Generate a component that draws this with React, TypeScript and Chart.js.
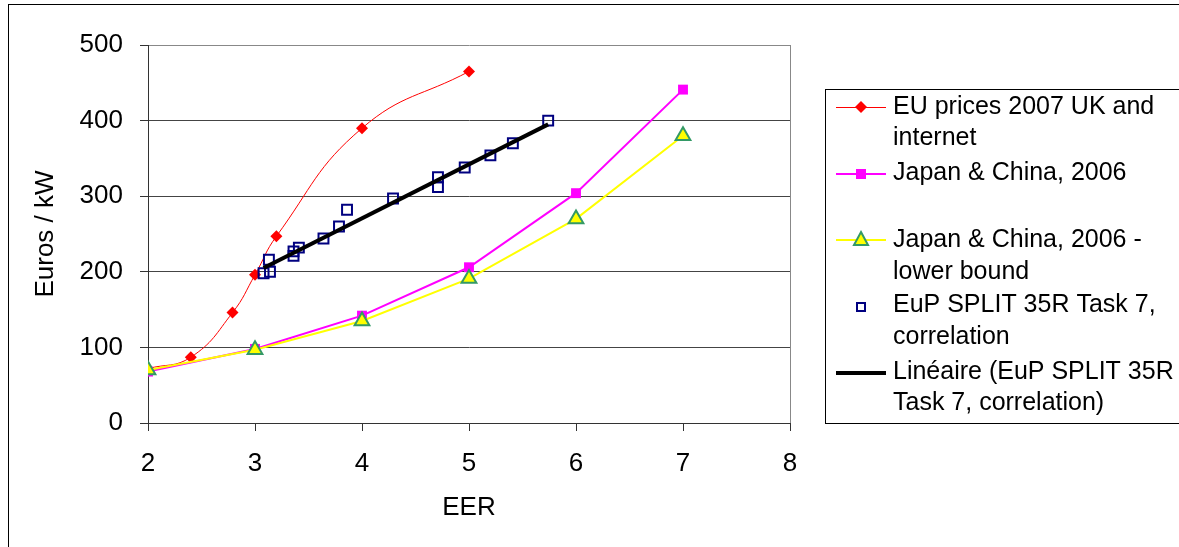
import React, { useEffect, useRef } from "react";
import { Chart, registerables } from "chart.js";

Chart.register(...registerables);

// ---------- data ----------
const euX = [2, 2.4, 2.79, 3.0, 3.2, 4, 5];
const euY = [72, 87, 146, 196, 247, 390, 465];

const jcX = [2, 3, 4, 5, 6, 7];
const jcY = [68, 98, 142, 206, 304, 441];

const jcLowX = [2, 3, 4, 5, 6, 7];
const jcLowY = [70, 97, 135, 191, 270, 380];

const eupX = [5.74, 5.41, 5.2, 4.96, 4.71, 4.71, 4.29, 3.86, 3.785, 3.64, 3.41, 3.36, 3.36, 3.13, 3.14, 3.08];
const eupY = [400, 370, 354, 338, 325, 312, 297, 282, 260, 244, 232, 227, 221, 216, 200, 198];

const trendX = [3.08, 5.74];
const trendY = [205, 395];

const xTicks = [2, 3, 4, 5, 6, 7, 8];
const yTicks = [0, 100, 200, 300, 400, 500];

const legendLines: string[][] = [
  ["EU prices 2007 UK and", "internet"],
  ["Japan & China, 2006"],
  ["Japan & China, 2006 -", "lower bound"],
  ["EuP SPLIT 35R Task 7,", "correlation"],
  ["Linéaire (EuP SPLIT 35R", "Task 7, correlation)"],
];

const FONT = "'Liberation Sans', Arial, Helvetica, sans-serif";

const pts = (xs: number[], ys: number[]) => xs.map((x, i) => ({ x, y: ys[i] }));

const legendPlugin = {
  id: "customLegend",
  afterDraw(chart: any) {
    const ctx = chart.ctx as CanvasRenderingContext2D;
    const area = chart.chartArea;
    ctx.save();
    // plot-area right border
    ctx.strokeStyle = "#888";
    ctx.lineWidth = 1;
    ctx.beginPath();
    ctx.moveTo(Math.round(area.right) + 0.5, area.top);
    ctx.lineTo(Math.round(area.right) + 0.5, area.bottom);
    ctx.stroke();

    // legend box
    ctx.strokeStyle = "#000";
    ctx.lineWidth = 1;
    ctx.strokeRect(825.5, 89.5, 420, 334);

    ctx.font = `25px ${FONT}`;
    ctx.fillStyle = "#000";
    ctx.textBaseline = "middle";
    ctx.textAlign = "left";
    const lineYs = [[107, 138], [173], [240, 272], [305, 337], [372, 403]];
    const symY = [107, 174, 240, 307, 373];
    legendLines.forEach((lines, i) => {
      lines.forEach((t, j) => ctx.fillText(t, 893, lineYs[i][j]));
    });
    const x0 = 836, x1 = 886, cx = 861;
    // red
    ctx.strokeStyle = "#FF0000"; ctx.lineWidth = 1;
    ctx.beginPath(); ctx.moveTo(x0, symY[0] + 0.5); ctx.lineTo(x1, symY[0] + 0.5); ctx.stroke();
    ctx.fillStyle = "#FF0000";
    ctx.beginPath(); ctx.moveTo(cx, symY[0] - 6); ctx.lineTo(cx + 6, symY[0]); ctx.lineTo(cx, symY[0] + 6); ctx.lineTo(cx - 6, symY[0]); ctx.closePath(); ctx.fill();
    // magenta
    ctx.strokeStyle = "#FF00FF"; ctx.lineWidth = 2;
    ctx.beginPath(); ctx.moveTo(x0, symY[1]); ctx.lineTo(x1, symY[1]); ctx.stroke();
    ctx.fillStyle = "#FF00FF"; ctx.fillRect(cx - 5, symY[1] - 5, 10, 10);
    // yellow
    ctx.strokeStyle = "#FFFF00"; ctx.lineWidth = 2;
    ctx.beginPath(); ctx.moveTo(x0, symY[2]); ctx.lineTo(x1, symY[2]); ctx.stroke();
    ctx.fillStyle = "#FFFF00"; ctx.strokeStyle = "#339966"; ctx.lineWidth = 2;
    ctx.beginPath(); ctx.moveTo(cx, symY[2] - 8); ctx.lineTo(cx + 7, symY[2] + 5); ctx.lineTo(cx - 7, symY[2] + 5); ctx.closePath(); ctx.fill(); ctx.stroke();
    // navy square
    ctx.strokeStyle = "#000080"; ctx.lineWidth = 2;
    ctx.strokeRect(cx - 4, symY[3] - 4, 8, 8);
    // trend line
    ctx.strokeStyle = "#000"; ctx.lineWidth = 4;
    ctx.beginPath(); ctx.moveTo(x0, symY[4]); ctx.lineTo(x1, symY[4]); ctx.stroke();
    ctx.restore();
  },
};

export default function App() {
  const canvasRef = useRef<HTMLCanvasElement | null>(null);

  useEffect(() => {
    document.body.style.overflow = "hidden";
    const canvas = canvasRef.current;
    if (!canvas) return;
    const chart = new Chart(canvas, {
      type: "scatter",
      data: {
        datasets: [
          {
            label: "EU prices 2007 UK and internet",
            data: pts(euX, euY),
            showLine: true,
            borderColor: "#FF0000",
            borderWidth: 1,
            tension: 0.45,
            backgroundColor: "#FF0000",
            pointStyle: "rectRot",
            pointRadius: 6,
            pointBorderWidth: 0,
            order: 4,
          },
          {
            label: "Japan & China, 2006",
            data: pts(jcX, jcY),
            showLine: true,
            borderColor: "#FF00FF",
            borderWidth: 2,
            backgroundColor: "#FF00FF",
            pointStyle: "rect",
            pointRadius: 7,
            pointBorderWidth: 0,
            order: 3,
          },
          {
            label: "Japan & China, 2006 - lower bound",
            data: pts(jcLowX, jcLowY),
            showLine: true,
            borderColor: "#FFFF00",
            borderWidth: 2,
            backgroundColor: "#FFFF00",
            pointStyle: "triangle",
            pointRadius: 8.5,
            pointBorderColor: "#339966",
            pointBorderWidth: 2,
            order: 2,
          },
          {
            label: "EuP SPLIT 35R Task 7, correlation",
            data: pts(eupX, eupY),
            showLine: false,
            borderColor: "#000080",
            backgroundColor: "rgba(0,0,0,0)",
            pointStyle: "rect",
            pointRadius: 7,
            pointBorderWidth: 2,
            order: 1,
          },
          {
            label: "Linéaire (EuP SPLIT 35R Task 7, correlation)",
            data: pts(trendX, trendY),
            showLine: true,
            borderColor: "#000000",
            borderWidth: 4,
            pointRadius: 0,
            order: 0,
          },
        ],
      },
      options: {
        animation: false,
        responsive: true,
        maintainAspectRatio: false,
        layout: { padding: { left: 0, top: 45, right: 389, bottom: 0 } },
        plugins: { legend: { display: false }, tooltip: { enabled: false }, title: { display: false } },
        scales: {
          x: {
            type: "linear",
            min: 2,
            max: 8,
            afterFit: (s: any) => { s.height = 124; },
            afterBuildTicks: (s: any) => { s.ticks = xTicks.map((v) => ({ value: v })); },
            ticks: { color: "#000", font: { size: 26, family: FONT }, padding: 17 },
            grid: { drawOnChartArea: false, drawTicks: true, tickLength: 8, color: "#333", tickColor: "#333" },
            border: { display: true, color: "#333", width: 1 },
            title: { display: true, text: "EER", color: "#000", font: { size: 26, family: FONT }, padding: { top: 0, bottom: 24 } },
          },
          y: {
            type: "linear",
            min: 0,
            max: 500,
            afterFit: (s: any) => { s.width = 148; },
            afterBuildTicks: (s: any) => { s.ticks = yTicks.map((v) => ({ value: v })); },
            ticks: { color: "#000", font: { size: 26, family: FONT }, padding: 17 },
            grid: {
              drawOnChartArea: true,
              drawTicks: true,
              tickLength: 8,
              color: (c: any) => (c.tick && c.tick.value === 500 ? "#888" : "#444"),
              tickColor: "#333",
            },
            border: { display: true, color: "#333", width: 1 },
            title: { display: true, text: "Euros / kW", color: "#000", font: { size: 26, family: FONT }, padding: { top: 30, bottom: 0 } },
          },
        },
      },
      plugins: [legendPlugin],
    } as any);
    return () => chart.destroy();
  }, []);

  return (
    <div style={{ position: "absolute", left: 0, top: 0, width: 1179, height: 547, overflow: "hidden", background: "#fff" }}>
      <div style={{ position: "absolute", left: 8, top: 4, width: 1300, height: 700, borderLeft: "1px solid #000", borderTop: "1px solid #000" }} />
      <div style={{ position: "absolute", left: 0, top: 0, width: 1179, height: 547 }}>
        <canvas ref={canvasRef} />
      </div>
    </div>
  );
}
